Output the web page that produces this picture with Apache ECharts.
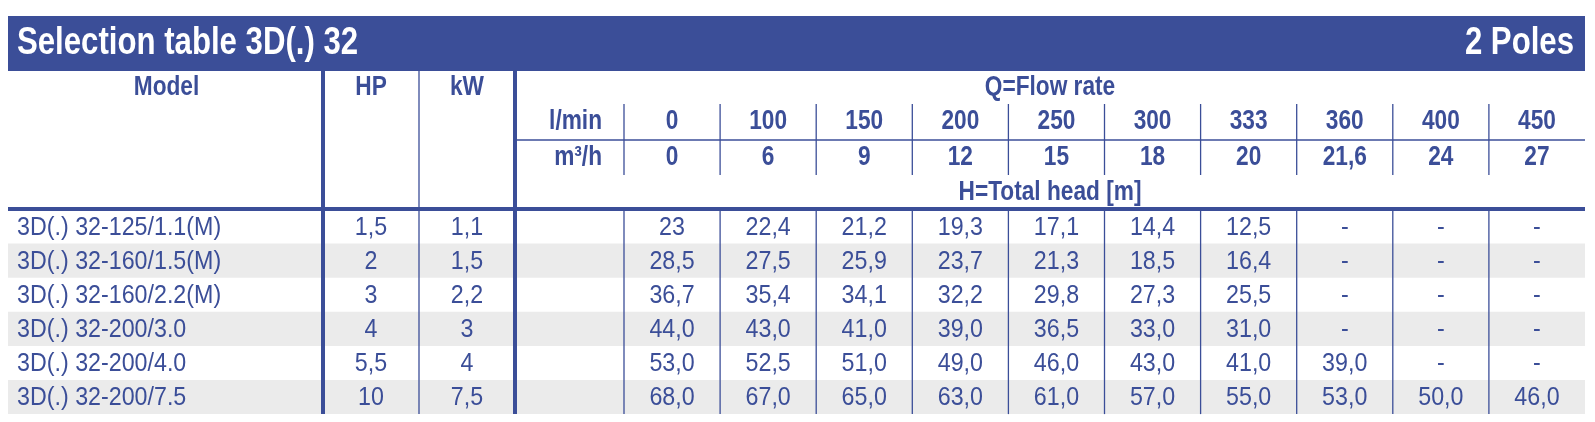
<!DOCTYPE html>
<html>
<head>
<meta charset="utf-8">
<script src="https://cdn.jsdelivr.net/npm/echarts@6/dist/echarts.min.js"></script>
<style>html,body{margin:0;padding:0;background:#fff}#c{width:1595px;height:422px}</style>
</head>
<body>
<div id="c"></div>
<script>
// ---------- DATA ----------
const titleText = 'Selection table 3D(.) 32';
const polesText = '2 Poles';
const headModel = 'Model';
const headHP = 'HP';
const headKW = 'kW';
const headFlow = 'Q=Flow rate';
const headHead = 'H=Total head [m]';
const unitLmin = 'l/min';
const unitM3h = 'm³/h';
const flowLmin = ['0', '100', '150', '200', '250', '300', '333', '360', '400', '450'];
const flowM3h = ['0', '6', '9', '12', '15', '18', '20', '21,6', '24', '27'];
const models = ['3D(.) 32-125/1.1(M)', '3D(.) 32-160/1.5(M)', '3D(.) 32-160/2.2(M)', '3D(.) 32-200/3.0', '3D(.) 32-200/4.0', '3D(.) 32-200/7.5'];
const hpValues = ['1,5', '2', '3', '4', '5,5', '10'];
const kwValues = ['1,1', '1,5', '2,2', '3', '4', '7,5'];
const head_32_125_11 = ['23', '22,4', '21,2', '19,3', '17,1', '14,4', '12,5', '-', '-', '-'];
const head_32_160_15 = ['28,5', '27,5', '25,9', '23,7', '21,3', '18,5', '16,4', '-', '-', '-'];
const head_32_160_22 = ['36,7', '35,4', '34,1', '32,2', '29,8', '27,3', '25,5', '-', '-', '-'];
const head_32_200_30 = ['44,0', '43,0', '41,0', '39,0', '36,5', '33,0', '31,0', '-', '-', '-'];
const head_32_200_40 = ['53,0', '52,5', '51,0', '49,0', '46,0', '43,0', '41,0', '39,0', '-', '-'];
const head_32_200_75 = ['68,0', '67,0', '65,0', '63,0', '61,0', '57,0', '55,0', '53,0', '50,0', '46,0'];
const headRows = [head_32_125_11, head_32_160_15, head_32_160_22, head_32_200_30, head_32_200_40, head_32_200_75];

// ---------- LAYOUT (positions / styles) ----------
const W = 1595, H = 422;
const BLUE = '#3b4e98', GREY = '#ebebeb';
const L = {
  left: 8, right: 1585,
  barTop: 16, barBottom: 71,
  modelR: 323, hpR: 419, kwR: 515, unitR: 624,
  dataW: (1585 - 624) / 10,
  yTopHead: 88, yLmin: 122, yM3h: 158, yHeadLbl: 193,
  yUnitLine: 140, sepTop: 104, sepBottom: 175,
  thickY: 209, rowTop: 209.5, rowH: 34.1
};
const FONT = '"Liberation Sans", Arial, Helvetica, sans-serif';
const fTitle = 'bold 38px ' + FONT, sxTitle = 0.82;
const fHead = 'bold 27px ' + FONT, sxHead = 0.84;
const fBody = '25px ' + FONT, sxBody = 0.93;

const dataCx = j => L.unitR + L.dataW * (j + 0.5);
const dataEdge = j => L.unitR + L.dataW * j;
const rowCy = i => L.rowTop + L.rowH * (i + 0.5) + 1.5;
const rowY = i => L.rowTop + L.rowH * i;

// ---------- BUILD ----------
const rects = [];
rects.push({ x1: L.left, y1: L.barTop, x2: L.right, y2: L.barBottom, fill: BLUE });
models.forEach((m, i) => { if (i % 2 === 1) rects.push({ x1: L.left, y1: rowY(i), x2: L.right, y2: rowY(i + 1), fill: GREY }); });

const lines = [];
const bodyBottom = rowY(models.length);
lines.push({ x1: L.modelR, y1: L.barBottom, x2: L.modelR, y2: bodyBottom, w: 4 });
lines.push({ x1: L.hpR, y1: L.barBottom, x2: L.hpR, y2: bodyBottom, w: 1.3 });
lines.push({ x1: L.kwR, y1: L.barBottom, x2: L.kwR, y2: bodyBottom, w: 4 });
flowLmin.forEach((v, j) => {
  const x = dataEdge(j);
  lines.push({ x1: x, y1: L.sepTop, x2: x, y2: L.sepBottom, w: 1.3 });
  lines.push({ x1: x, y1: L.thickY, x2: x, y2: bodyBottom, w: 1.3 });
});
lines.push({ x1: L.kwR, y1: L.yUnitLine, x2: L.right, y2: L.yUnitLine, w: 1.3 });
lines.push({ x1: L.left, y1: L.thickY, x2: L.right, y2: L.thickY, w: 4 });

const texts = [];
function T(x, y, text, font, sx, align, color) { texts.push({ x, y, text, font, sx, align, color: color || BLUE }); }
T(17, (L.barTop + L.barBottom) / 2 + 0.5, titleText, fTitle, sxTitle, 'left', '#ffffff');
T(1574, (L.barTop + L.barBottom) / 2 + 0.5, polesText, fTitle, sxTitle, 'right', '#ffffff');
T((L.left + L.modelR) / 2 + 1, L.yTopHead, headModel, fHead, sxHead, 'center');
T((L.modelR + L.hpR) / 2, L.yTopHead, headHP, fHead, sxHead, 'center');
T((L.hpR + L.kwR) / 2, L.yTopHead, headKW, fHead, sxHead, 'center');
T((L.kwR + L.right) / 2, L.yTopHead, headFlow, fHead, sxHead, 'center');
T(L.unitR - 22, L.yLmin, unitLmin, fHead, sxHead, 'right');
T(L.unitR - 22, L.yM3h, unitM3h, fHead, sxHead, 'right');
flowLmin.forEach((v, j) => T(dataCx(j), L.yLmin, v, fHead, sxHead, 'center'));
flowM3h.forEach((v, j) => T(dataCx(j), L.yM3h, v, fHead, sxHead, 'center'));
T((L.kwR + L.right) / 2, L.yHeadLbl, headHead, fHead, sxHead, 'center');
models.forEach((m, i) => {
  const y = rowCy(i);
  T(17, y, m, fBody, sxBody, 'left');
  T((L.modelR + L.hpR) / 2, y, hpValues[i], fBody, sxBody, 'center');
  T((L.hpR + L.kwR) / 2, y, kwValues[i], fBody, sxBody, 'center');
  headRows[i].forEach((v, j) => T(dataCx(j), y, v, fBody, sxBody, 'center'));
});

// ---------- CHART ----------
const chart = echarts.init(document.getElementById('c'), null, { renderer: 'canvas' });
chart.setOption({
  backgroundColor: '#ffffff',
  animation: false,
  grid: { left: 0, right: 0, top: 0, bottom: 0 },
  xAxis: { type: 'value', min: 0, max: W, show: false },
  yAxis: { type: 'value', min: 0, max: H, inverse: true, show: false },
  series: [
    {
      type: 'custom', name: 'backgrounds', silent: true, z: 1,
      data: rects.map(r => [r.x1, r.y1, r.x2, r.y2]),
      renderItem: (params, api) => {
        const r = rects[params.dataIndex];
        const p1 = api.coord([r.x1, r.y1]), p2 = api.coord([r.x2, r.y2]);
        return { type: 'rect', shape: { x: p1[0], y: p1[1], width: p2[0] - p1[0], height: p2[1] - p1[1] }, style: { fill: r.fill } };
      }
    },
    {
      type: 'custom', name: 'rules', silent: true, z: 2,
      data: lines.map(l => [l.x1, l.y1, l.x2, l.y2]),
      renderItem: (params, api) => {
        const l = lines[params.dataIndex];
        const p1 = api.coord([l.x1, l.y1]), p2 = api.coord([l.x2, l.y2]);
        return { type: 'line', shape: { x1: p1[0], y1: p1[1], x2: p2[0], y2: p2[1] }, style: { stroke: BLUE, lineWidth: l.w } };
      }
    },
    {
      type: 'custom', name: 'cells', silent: true, z: 3,
      data: texts.map(t => [t.x, t.y]),
      renderItem: (params, api) => {
        const t = texts[params.dataIndex];
        const p = api.coord([t.x, t.y]);
        return {
          type: 'text', x: p[0], y: p[1], scaleX: t.sx,
          style: { text: t.text, x: 0, y: 0, fill: t.color, font: t.font, align: t.align, verticalAlign: 'middle', textAlign: t.align, textVerticalAlign: 'middle' }
        };
      }
    }
  ]
});
</script>
</body>
</html>
